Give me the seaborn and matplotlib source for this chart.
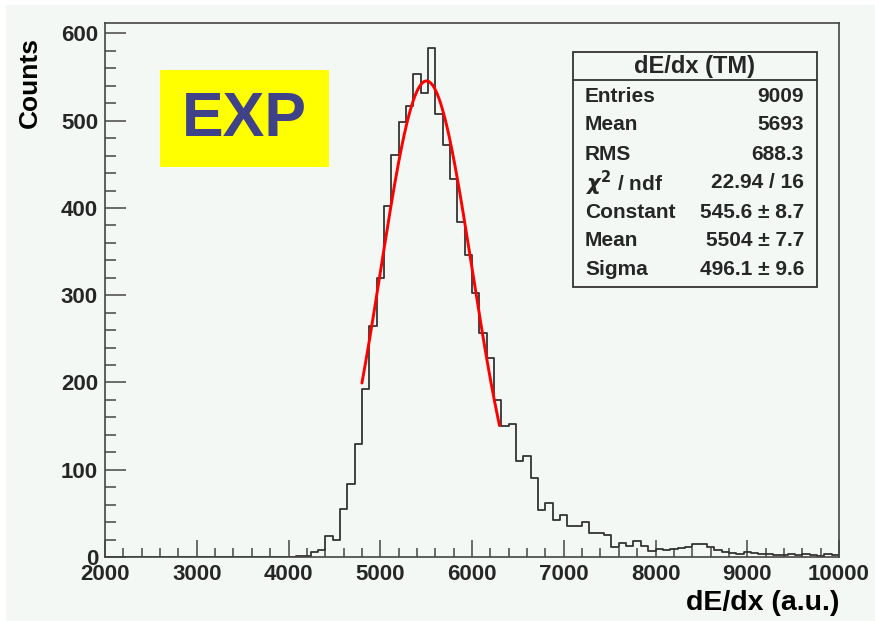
import numpy as np
import pandas as pd
import matplotlib
matplotlib.use("Agg")
import matplotlib.pyplot as plt
import seaborn as sns
from matplotlib.patches import Rectangle
from matplotlib.lines import Line2D
from matplotlib.ticker import MultipleLocator

# ---------------- data ----------------
x_min, x_max, n_bins = 2000, 10000, 100
counts = [
    0, 0, 0, 0, 0, 0, 0, 0, 0, 0,
    0, 0, 0, 0, 0, 0, 0, 0, 0, 0,
    0, 0, 0, 0, 0, 0,
    1, 1, 6, 8, 24, 19, 55, 84,
    130, 193, 265, 320, 402, 461, 498, 517, 554, 532,
    583, 508, 472, 433, 384, 346, 303, 257, 228, 180,
    150, 152, 110, 116, 91, 54, 62, 42, 48, 35,
    35, 40, 27, 28, 25, 11, 16, 13, 18, 13, 7,
    9, 8, 9, 10, 12, 15, 15, 11, 8, 6,
    5, 4, 6, 5, 4, 3, 2, 2, 4, 2,
    3, 2, 1, 4, 2,
]
fit_constant = 545.6
fit_mean = 5504.0
fit_sigma = 496.1
fit_range = (4800, 6300)

stats_title = "dE/dx (TM)"
stats_labels = ["Entries", "Mean", "RMS", r"$\chi^{2}$ / ndf", "Constant", "Mean", "Sigma"]
stats_values = ["9009", "5693", "688.3", "22.94 / 16", "545.6 \u00b1 8.7", "5504 \u00b1 7.7", "496.1 \u00b1 9.6"]

x_ticks = [2000, 3000, 4000, 5000, 6000, 7000, 8000, 9000, 10000]
y_ticks = [0, 100, 200, 300, 400, 500, 600]

# ---------------- style ----------------
sns.set_style("ticks")
plt.rcParams["font.family"] = ["Liberation Sans", "DejaVu Sans"]
plt.rcParams["font.weight"] = "bold"

W, H = 875, 621
BG = "#f4f8f5"
fig = plt.figure(figsize=(W / 100, H / 100), dpi=100, facecolor="white")

def fx(px):
    return px / W

def fy(py):
    return 1 - py / H

fig.patches.append(Rectangle((fx(6), 0), 1 - fx(6), fy(5), transform=fig.transFigure,
                             facecolor=BG, edgecolor="none", zorder=-10))

ax = fig.add_axes([fx(105), fy(557), fx(839) - fx(105), fy(23) - fy(557)])
ax.set_facecolor(BG)

bin_w = (x_max - x_min) / n_bins
centers = x_min + bin_w * (np.arange(n_bins) + 0.5)
df = pd.DataFrame({"dedx": centers, "counts": counts})
sns.histplot(data=df, x="dedx", weights="counts", binwidth=bin_w, binrange=(x_min, x_max),
             element="step", fill=False, color="#333333", linewidth=1.3, ax=ax)

xf = np.linspace(fit_range[0], fit_range[1], 300)
yf = fit_constant * np.exp(-0.5 * ((xf - fit_mean) / fit_sigma) ** 2)
sns.lineplot(x=xf, y=yf, color="#ff0000", linewidth=2.1, ax=ax)

ax.set_xlim(x_min, x_max)
ax.set_ylim(0, 612)
ax.set_xticks(x_ticks)
ax.set_yticks(y_ticks)
ax.set_xticklabels([str(t) for t in x_ticks], fontsize=16, fontweight="bold")
ax.set_yticklabels([str(t) for t in y_ticks], fontsize=16, fontweight="bold")
ax.xaxis.set_minor_locator(MultipleLocator(200))
ax.yaxis.set_minor_locator(MultipleLocator(20))
ax.tick_params(axis="x", which="major", direction="in", length=12, width=1.1, color="#444444", pad=5)
ax.tick_params(axis="x", which="minor", direction="in", length=6.5, width=1.1, color="#444444")
ax.tick_params(axis="y", which="major", direction="in", length=15, width=1.1, color="#444444", pad=5)
ax.tick_params(axis="y", which="minor", direction="in", length=8, width=1.1, color="#444444")
for s in ax.spines.values():
    s.set_visible(True)
    s.set_color("#444444")
    s.set_linewidth(1.2)
ax.set_xlabel("")
ax.set_ylabel("")

fig.text(fx(30), fy(37), "Counts", rotation=90, ha="center", va="top",
         fontsize=19, fontweight="bold", color="black")
fig.text(fx(839), fy(603), "dE/dx (a.u.)", ha="right", va="center",
         fontsize=20.5, fontweight="bold", color="black")

# EXP label
fig.patches.append(Rectangle((fx(160), fy(167)), fx(329) - fx(160), fy(70) - fy(167),
                             transform=fig.transFigure, facecolor="#ffff00", edgecolor="none", zorder=5))
fig.text(fx(244.5), fy(119), "EXP", ha="center", va="center", fontsize=45,
         fontweight="bold", color="#3f4289", zorder=6)

# stats box
bx0, bx1, by0, by1, bsep = 573, 817, 52, 287, 80
fig.patches.append(Rectangle((fx(bx0), fy(by1)), fx(bx1) - fx(bx0), fy(by0) - fy(by1),
                             transform=fig.transFigure, facecolor=BG, edgecolor="#333333",
                             linewidth=1.3, zorder=5))
fig.lines.append(Line2D([fx(bx0), fx(bx1)], [fy(bsep), fy(bsep)], transform=fig.transFigure,
                        color="#333333", linewidth=1.3, zorder=6))
fig.text(fx((bx0 + bx1) / 2), fy(66), stats_title, ha="center", va="center",
         fontsize=17, fontweight="bold", zorder=7)
row_y = [96, 125, 154, 183, 213, 241, 270]
for lab, val, yy in zip(stats_labels, stats_values, row_y):
    fig.text(fx(585), fy(yy), lab, ha="left", va="center", fontsize=15, fontweight="bold", zorder=7)
    fig.text(fx(804), fy(yy), val, ha="right", va="center", fontsize=15, fontweight="bold", zorder=7)

fig.savefig("out.png", dpi=100, facecolor=fig.get_facecolor())
